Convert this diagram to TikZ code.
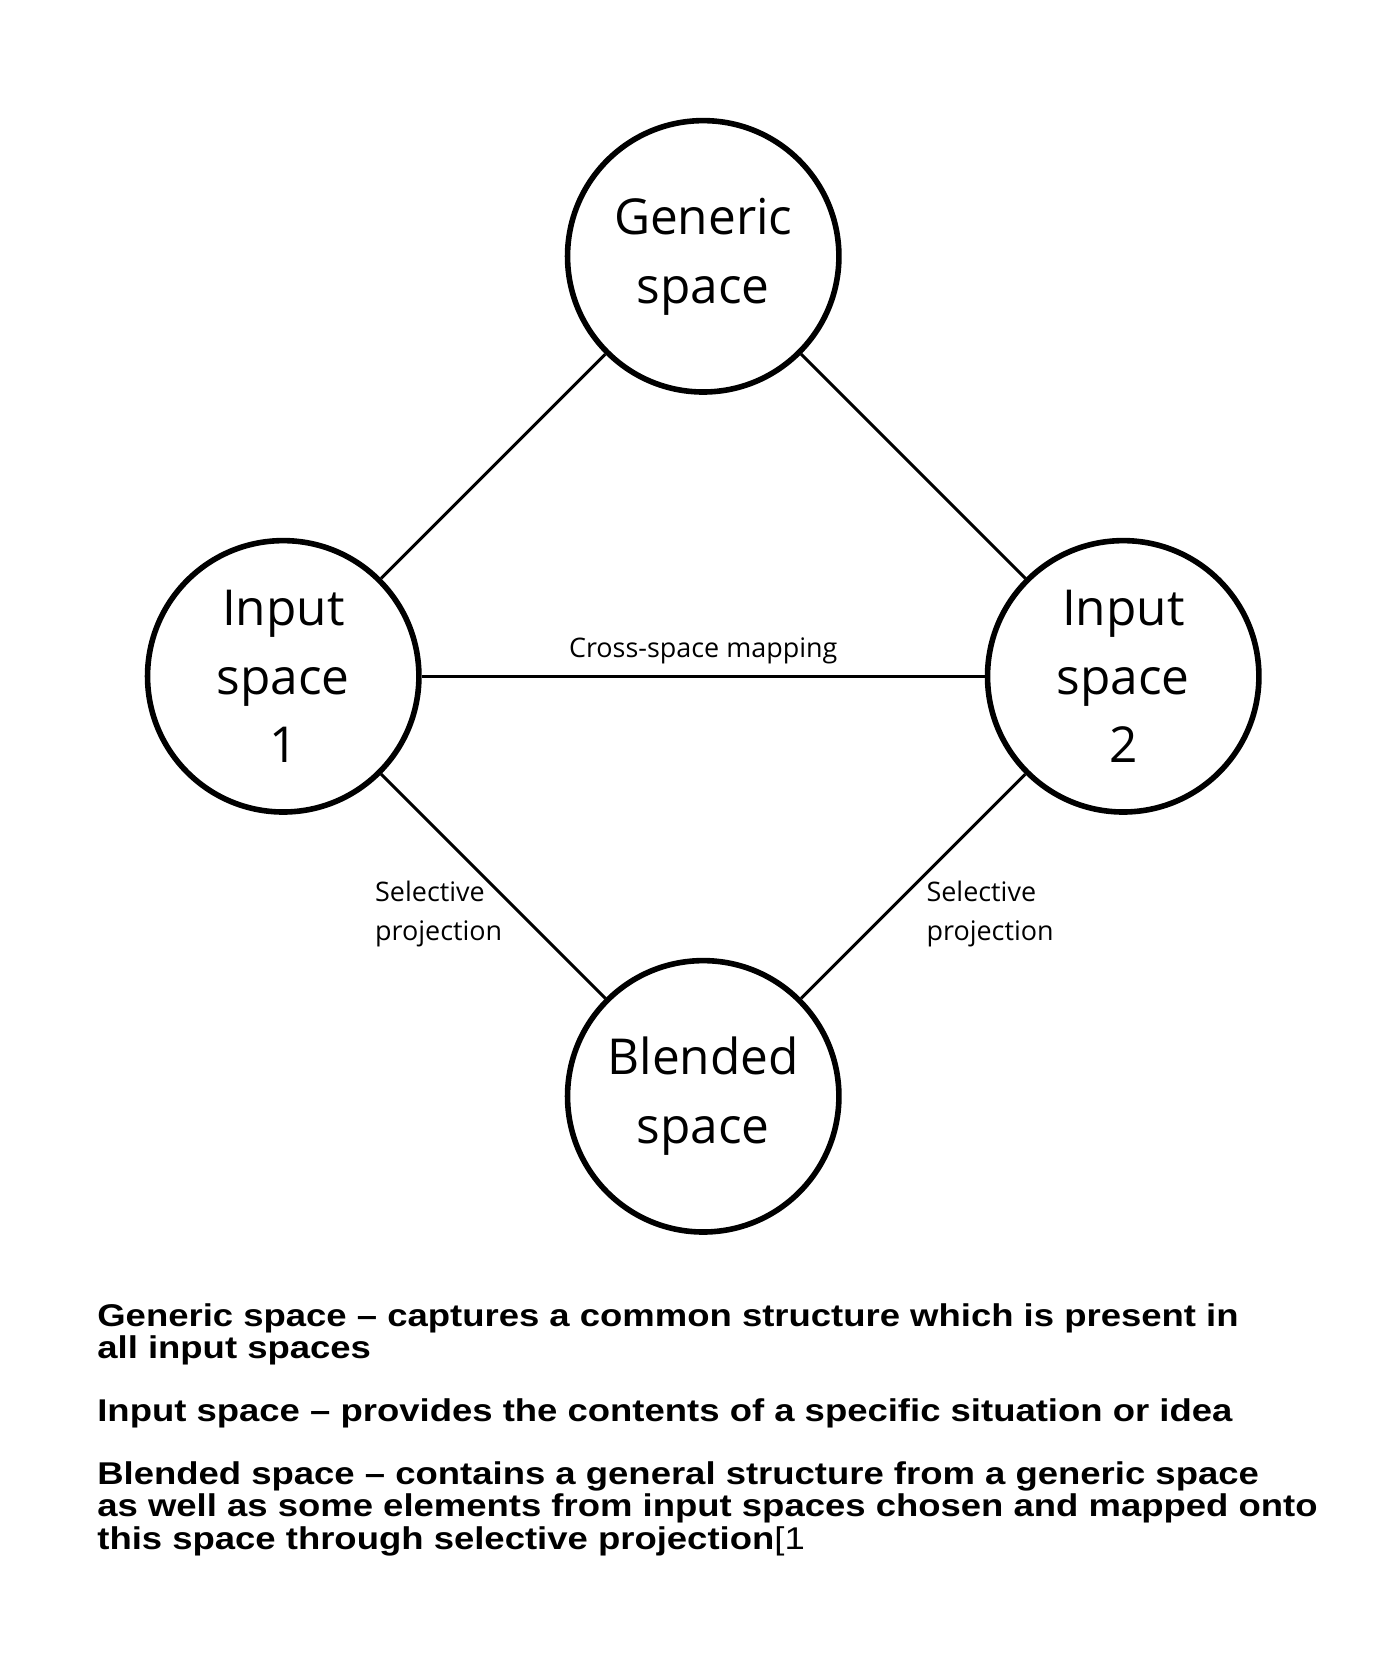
\documentclass[tikz,border=0pt]{standalone}
\usepackage{fontspec}
\usepackage{graphicx}
\setmainfont{Open Sans}
\newfontfamily\descfont{Liberation Sans}
\begin{document}
\begin{tikzpicture}[x=0.5pt,y=-0.5pt,
  sp/.style={circle,draw,line width=2.6pt,minimum size=126pt,inner sep=0pt,align=center,
    font=\fontsize{23}{32}\selectfont},
  ln/.style={line width=1.4pt},
  lab/.style={font=\fontsize{12.5}{18}\selectfont,align=left,inner sep=0pt},
  desc/.style={font=\descfont\bfseries\fontsize{14.6}{14.6}\selectfont,anchor=north west,align=left,inner sep=0pt}]
\useasboundingbox (0,0) rectangle (1300,1560);
\node[sp] (g) at (653,238) {Generic\\space};
\node[sp] (i1) at (263,628) {Input\\space\\1};
\node[sp] (i2) at (1043,628) {Input\\space\\2};
\node[sp] (b) at (653,1018) {Blended\\space};
\draw[ln] (g) -- (i1);
\draw[ln] (g) -- (i2);
\draw[ln] (i1) -- node[lab,above=5pt] (cm) {Cross-space mapping} (i2);
\draw[ln] (i1) -- (b);
\draw[ln] (i2) -- (b);
\node[lab,anchor=north west] (sp1) at (348,818) {Selective\\projection};
\node[lab,anchor=north west] (sp2) at (860,818) {Selective\\projection};
\node[desc] (d1) at (90,1210) {\scalebox{1.16}[1]{\begin{tabular}{@{}l@{}}Generic space – captures a common structure which is present in\\all input spaces\end{tabular}}};
\node[desc] (d2) at (90,1298) {\scalebox{1.16}[1]{Input space – provides the contents of a specific situation or idea}};
\node[desc] (d3) at (90,1357) {\scalebox{1.16}[1]{\begin{tabular}{@{}l@{}}Blended space – contains a general structure from a generic space\\as well as some elements from input spaces chosen and mapped onto\\this space through selective projection{\mdseries[1}\end{tabular}}};
\end{tikzpicture}
\end{document}
